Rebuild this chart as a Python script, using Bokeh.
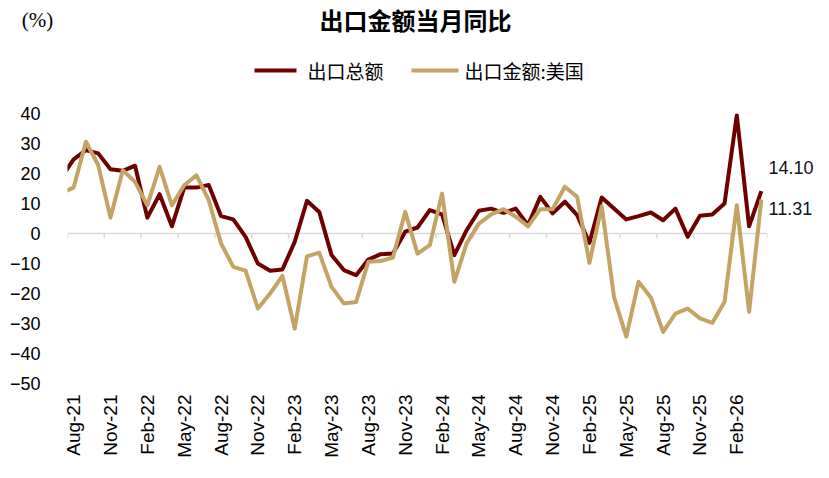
import numpy as np
import pandas as pd
from bokeh.plotting import figure
from bokeh.layouts import column
from bokeh.models import (FixedTicker, Span, Label, Range1d, LinearAxis)
from bokeh.embed import file_html
from bokeh.resources import INLINE

# ---------------- data ----------------
months = pd.date_range("2021-07-01", "2026-04-01", freq="MS").strftime("%b-%y").tolist()

total = [18.7, 24.7, 27.8, 26.7, 21.4, 20.9, 22.6, 5.3, 13.1, 2.4,
         15.3, 15.3, 16.2, 5.8, 4.7, -1.1, -10.0, -12.4, -12.0, -2.8,
         10.9, 7.2, -7.2, -12.2, -13.9, -8.7, -6.9, -6.7, 0.6, 2.0,
         7.8, 6.4, -7.2, 1.1, 7.6, 8.3, 6.9, 8.3, 2.8, 12.2,
         6.7, 10.6, 6.1, -3.1, 12.0, 8.3, 4.7, 5.8, 7.0, 4.4,
         8.3, -1.1, 5.9, 6.3, 10.0, 39.4, 2.4, 14.10]

us = [13.5, 15.3, 30.6, 22.8, 5.3, 21.1, 17.2, 9.4, 22.2, 9.4,
      16.1, 19.4, 11.1, -3.3, -11.1, -12.4, -25.0, -20.0, -14.1, -31.7,
      -7.6, -6.4, -17.8, -23.3, -22.8, -9.4, -9.2, -8.0, 7.2, -6.7,
      -3.9, 13.3, -16.1, -3.3, 3.3, 6.4, 8.1, 5.6, 2.4, 8.1,
      8.1, 15.6, 12.2, -9.8, 9.1, -21.1, -34.4, -16.1, -21.3, -32.8,
      -26.7, -25.0, -28.3, -29.8, -22.8, 9.4, -26.1, 11.31]

series_names = ["出口总额", "出口金额:美国"]
y_ticks = list(range(-50, 41, 10))
title_text = "出口金额当月同比"
unit_text = "(%)"

DARK = "#6E0000"
GOLD = "#C4A464"
CJK = "Noto Sans CJK SC"

# ---------------- geometry ----------------
W = 829
HDR_H = 103
MAIN_H = 478 - HDR_H
L, R, T, B = 67, 62, 10, 95
x = np.arange(len(months))
label_idx = list(range(1, len(months), 3))
boundary = np.arange(0.5, len(months), 3)
x0, x1 = 0.5, len(months) - 0.5
y0, y1 = -50, 40
pxy = (MAIN_H - T - B) / (y1 - y0)

def dy(py):  # page y (px from top) -> data y of main chart
    return round(y1 - (py - HDR_H - T) / pxy, 2)

# ---------------- header (title, unit, legend) ----------------
hdr = figure(width=W, height=HDR_H, x_range=Range1d(0, W), y_range=Range1d(HDR_H, 0),
             output_backend="svg", toolbar_location=None,
             min_border=0, min_border_left=0, min_border_right=0,
             min_border_top=0, min_border_bottom=0)
if "frame_align" in hdr.properties():
    hdr.frame_align = False
hdr.axis.visible = False
hdr.grid.visible = False
hdr.outline_line_color = None

hdr.add_layout(Label(x=415, y=19, text=title_text, text_font=CJK, text_font_style="bold",
                     text_font_size="24px", text_align="center", text_baseline="middle",
                     text_color="black"))
hdr.add_layout(Label(x=37, y=19, text=unit_text, text_font="Liberation Serif",
                     text_font_size="21px", text_align="center", text_baseline="middle",
                     text_color="black"))
# legend: sample strokes + labels
leg_x0 = [254, 411]
leg_x1 = [296, 458]
leg_tx = [307, 464]
leg_y = 70
hdr.segment(x0=leg_x0, y0=[leg_y] * 2, x1=leg_x1, y1=[leg_y] * 2,
            line_color=[DARK, GOLD], line_width=4)
for tx, name in zip(leg_tx, series_names):
    hdr.add_layout(Label(x=tx, y=leg_y, text=name, text_font=CJK, text_font_size="19px",
                         text_align="left", text_baseline="middle", text_color="black"))

# ---------------- main chart ----------------
p = figure(width=W, height=MAIN_H, x_range=Range1d(x0, x1), y_range=Range1d(y0, y1),
           output_backend="svg", toolbar_location=None,
           min_border_left=L, min_border_right=R, min_border_top=T, min_border_bottom=B)
if "frame_align" in p.properties():
    p.frame_align = False
p.xgrid.visible = False
p.ygrid.visible = False
p.outline_line_color = None

p.xaxis.ticker = FixedTicker(ticks=label_idx)
p.xaxis.major_label_overrides = {i: months[i] for i in label_idx}
p.xaxis.major_label_orientation = np.pi / 2
p.xaxis.axis_line_color = None
p.xaxis.major_tick_line_color = None
p.xaxis.minor_tick_line_color = None
p.xaxis.major_label_text_font = "Liberation Sans"
p.xaxis.major_label_text_font_size = "19px"
p.xaxis.major_label_text_color = "black"
p.xaxis.major_label_standoff = 5

p.yaxis.ticker = FixedTicker(ticks=y_ticks)
p.yaxis.axis_line_color = None
p.yaxis.major_tick_line_color = None
p.yaxis.minor_tick_line_color = None
p.yaxis.major_label_text_font = "Liberation Sans"
p.yaxis.major_label_text_font_size = "18px"
p.yaxis.major_label_text_color = "black"
p.yaxis.major_label_standoff = 21

# end-value labels as a right axis
end_pos = [dy(167), dy(208)]
end_axis = LinearAxis(ticker=FixedTicker(ticks=end_pos),
                      major_label_overrides={end_pos[0]: f"{total[-1]:.2f}",
                                             end_pos[1]: f"{us[-1]:.2f}"})
end_axis.axis_line_color = None
end_axis.major_tick_line_color = None
end_axis.minor_tick_line_color = None
end_axis.major_tick_out = 0
end_axis.major_tick_in = 0
end_axis.major_label_text_font = "Liberation Sans"
end_axis.major_label_text_font_size = "18px"
end_axis.major_label_text_color = "#111122"
end_axis.major_label_standoff = 1
p.add_layout(end_axis, "right")

# zero line with category-boundary ticks
p.add_layout(Span(location=0, dimension="width", line_color="#d9d9d9",
                  line_width=1.5, level="underlay"))
p.segment(x0=boundary, y0=0, x1=boundary, y1=-5 / pxy, line_color="#d9d9d9", line_width=1.5)

p.line(x, total, line_color=DARK, line_width=4, line_join="round")
p.line(x, us, line_color=GOLD, line_width=4, line_join="round")

layout = column(hdr, p, spacing=0)
open("out.html", "w").write(file_html(layout, INLINE))
